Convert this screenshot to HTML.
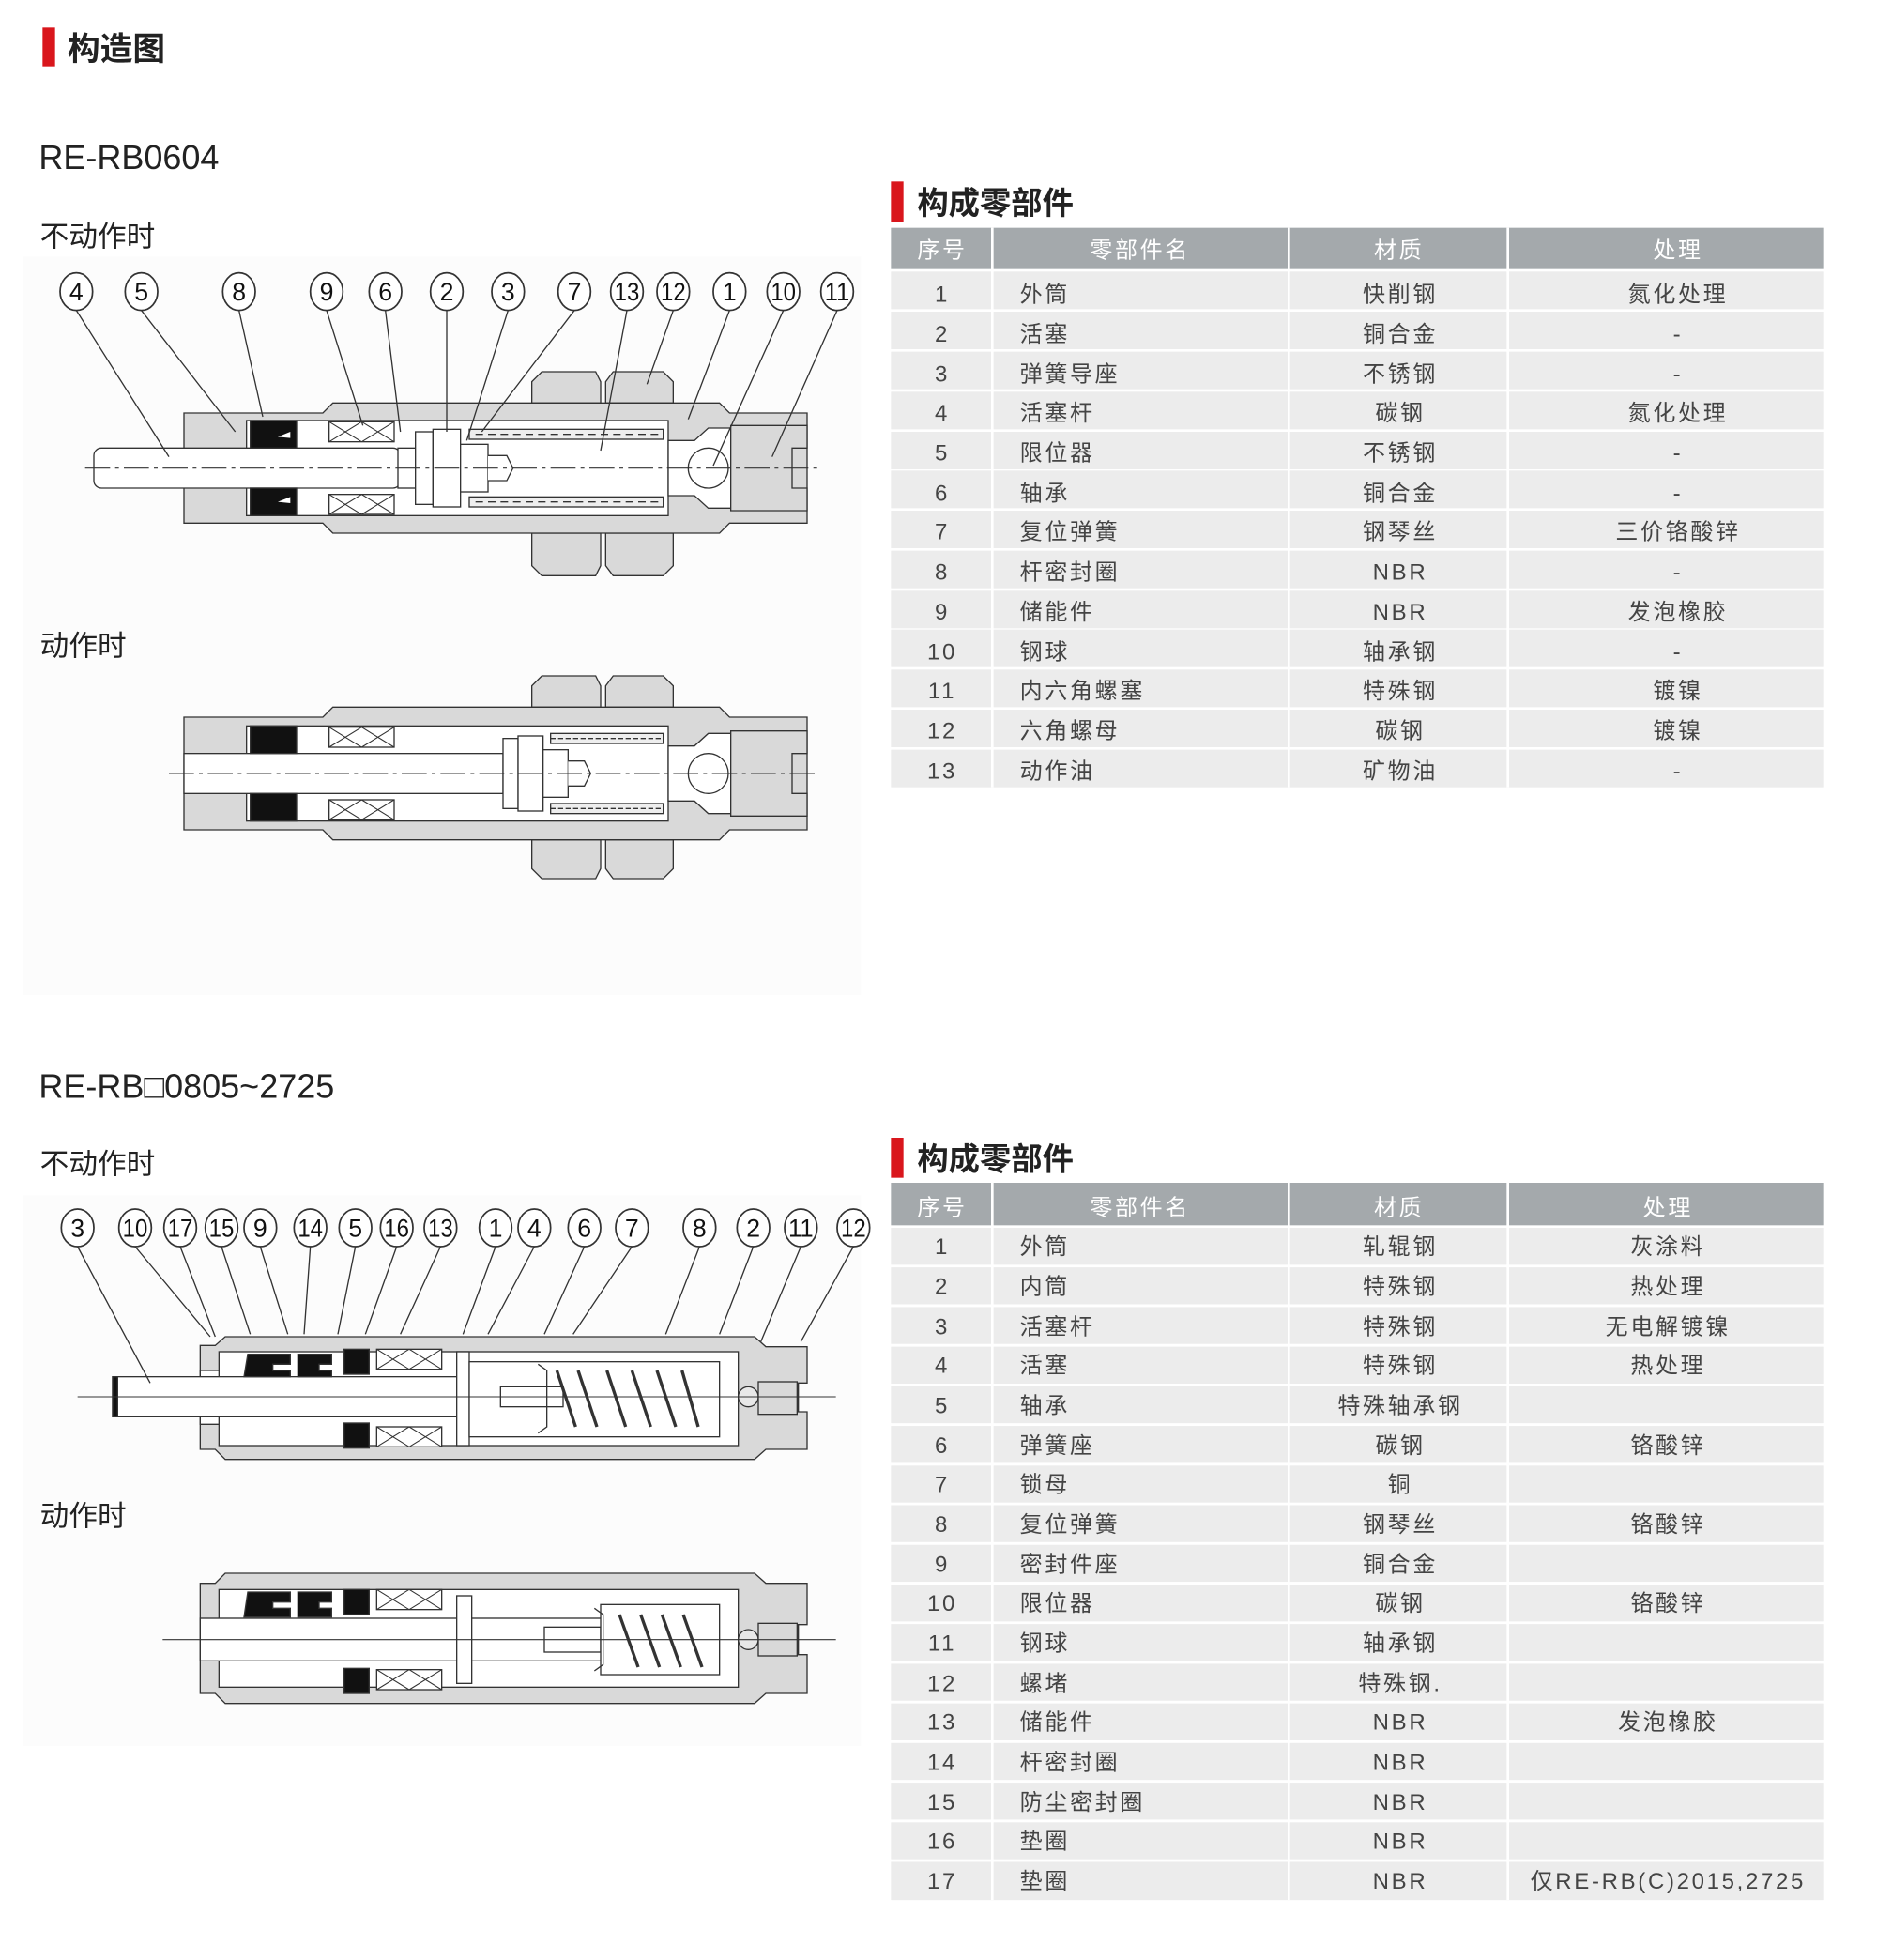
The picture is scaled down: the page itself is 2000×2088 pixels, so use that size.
<!DOCTYPE html>
<html><head><meta charset="utf-8"><style>
html,body{margin:0;padding:0;background:#fff;}
svg{display:block;}
text{font-family:"Liberation Sans","Noto Sans CJK SC",sans-serif;}
</style></head><body>
<svg width="2000" height="2088" viewBox="0 0 1500 1566" xmlns="http://www.w3.org/2000/svg">
<defs>
<g id="xb"><rect x="0" y="0" width="52" height="16" fill="#fff" stroke="#333" stroke-width="1"/><path d="M0,0 L26,16 M0,16 L26,0 M26,0 L52,16 M26,16 L52,0" stroke="#333" stroke-width="0.8"/></g>
</defs>
<rect width="1500" height="1566" fill="#fff"/>
<rect x="18" y="205" width="670" height="590" fill="#fcfcfc"/>
<rect x="18" y="955" width="670" height="440" fill="#fcfcfc"/>

<rect x="34" y="22" width="10" height="31" fill="#d9161c"/>
<text x="54" y="48" font-size="26" font-weight="bold" fill="#222">构造图</text>
<text x="31" y="135" font-size="27" fill="#222">RE-RB0604</text>
<text x="32" y="197" font-size="23" fill="#222">不动作时</text>
<text x="32" y="524" font-size="23" fill="#222">动作时</text>
<text x="31" y="877" font-size="27" fill="#222">RE-RB□0805~2725</text>
<text x="32" y="938" font-size="23" fill="#222">不动作时</text>
<text x="32" y="1219" font-size="23" fill="#222">动作时</text>

<!-- Diagram 1 -->
<g stroke="#333" stroke-width="1" fill="none">
<g fill="#fff" stroke="#333" stroke-width="1.3">
<ellipse cx="61" cy="233" rx="13" ry="15"/><ellipse cx="113" cy="233" rx="13" ry="15"/><ellipse cx="191" cy="233" rx="13" ry="15"/><ellipse cx="261" cy="233" rx="13" ry="15"/><ellipse cx="308" cy="233" rx="13" ry="15"/><ellipse cx="357" cy="233" rx="13" ry="15"/><ellipse cx="406" cy="233" rx="13" ry="15"/><ellipse cx="459" cy="233" rx="13" ry="15"/><ellipse cx="501" cy="233" rx="13" ry="15"/><ellipse cx="538" cy="233" rx="13" ry="15"/><ellipse cx="583" cy="233" rx="13" ry="15"/><ellipse cx="626" cy="233" rx="13" ry="15"/><ellipse cx="669" cy="233" rx="13" ry="15"/>
</g>
<path d="M425,322 L425,305 L433,297 L476,297 L480,305 L480,322 Z M484,322 L484,305 L490,297 L530,297 L538,305 L538,322 Z" fill="#d9d9d9"/>
<path d="M425,426 L425,452 L433,460 L476,460 L480,452 L480,426 Z M484,426 L484,452 L490,460 L530,460 L538,452 L538,426 Z" fill="#d9d9d9"/>
<path d="M147,330 L258,330 L266,322 L575,322 L583,330 L645,330 L645,418 L583,418 L575,426 L266,426 L258,418 L147,418 Z" fill="#d9d9d9"/>
<rect x="197" y="336" width="337" height="76" fill="#fff"/>
<path d="M534,352 L555,352 L566,342 L584,342 L584,406 L566,406 L555,396 L534,396 Z" fill="#fff"/>
<path d="M584,340 L645,340 L645,358 L633,358 L633,390 L645,390 L645,408 L584,408 Z" fill="#d9d9d9"/>
<circle cx="566" cy="374" r="16" fill="#fff"/>
<rect x="75" y="358" width="245" height="32" rx="6" fill="#fff"/>
<rect x="200" y="336" width="37" height="22" fill="#111"/><rect x="200" y="390" width="37" height="22" fill="#111"/>
<path d="M222,349 L232,345 L232,350 Z M222,401 L232,397 L232,402 Z" fill="#fff" stroke="none"/>
<use href="#xb" x="263" y="337"/><use href="#xb" x="263" y="395"/>
<rect x="318" y="358" width="14" height="32" fill="#fff"/>
<rect x="332" y="345" width="14" height="58" fill="#fff"/>
<rect x="346" y="343" width="22" height="62" fill="#fff"/>
<rect x="368" y="355" width="22" height="38" fill="#fff"/>
<path d="M390,364 L405,364 L410,374 L405,384 L390,384" fill="#fff"/>
<rect x="375" y="343" width="155" height="8" fill="#eee"/><rect x="375" y="397" width="155" height="8" fill="#eee"/>
<path d="M380,347 L530,347 M380,401 L530,401" stroke-dasharray="6,4"/>
<path d="M68,374 L655,374" stroke-dasharray="20,4,3,4" stroke-width="0.8"/>
<path d="M61,248 L135,365 M113,248 L188,345 M191,248 L210,333 M261,248 L290,340 M308,248 L320,345 M357,248 L357,345 M406,248 L373,352 M459,248 L385,345 M501,248 L480,360 M538,248 L517,307 M583,248 L550,335 M626,248 L570,372 M669,248 L617,365"/>
</g>
<g font-size="20" text-anchor="middle" fill="#111">
<text x="61" y="240">4</text><text x="113" y="240">5</text><text x="191" y="240">8</text><text x="261" y="240">9</text><text x="308" y="240">6</text><text x="357" y="240">2</text><text x="406" y="240">3</text><text x="459" y="240">7</text><text x="501" y="240" textLength="20" lengthAdjust="spacingAndGlyphs">13</text><text x="538" y="240" textLength="20" lengthAdjust="spacingAndGlyphs">12</text><text x="583" y="240">1</text><text x="626" y="240" textLength="20" lengthAdjust="spacingAndGlyphs">10</text><text x="669" y="240" textLength="20" lengthAdjust="spacingAndGlyphs">11</text>
</g>

<!-- Diagram 2 -->
<g stroke="#333" stroke-width="1" fill="none">
<path d="M425,565 L425,548 L433,540 L476,540 L480,548 L480,565 Z M484,565 L484,548 L490,540 L530,540 L538,548 L538,565 Z" fill="#d9d9d9"/>
<path d="M425,671 L425,694 L433,702 L476,702 L480,694 L480,671 Z M484,671 L484,694 L490,702 L530,702 L538,694 L538,671 Z" fill="#d9d9d9"/>
<path d="M147,573 L258,573 L266,565 L575,565 L583,573 L645,573 L645,663 L583,663 L575,671 L266,671 L258,663 L147,663 Z" fill="#d9d9d9"/>
<rect x="197" y="580" width="337" height="76" fill="#fff"/>
<path d="M534,596 L555,596 L566,586 L584,586 L584,650 L566,650 L555,640 L534,640 Z" fill="#fff"/>
<path d="M584,584 L645,584 L645,602 L633,602 L633,634 L645,634 L645,652 L584,652 Z" fill="#d9d9d9"/>
<circle cx="566" cy="618" r="16" fill="#fff"/>
<rect x="147" y="602" width="255" height="32" fill="#fff"/>
<rect x="200" y="580" width="37" height="22" fill="#111"/><rect x="200" y="634" width="37" height="22" fill="#111"/>
<use href="#xb" x="263" y="581"/><use href="#xb" x="263" y="639"/>
<rect x="402" y="590" width="12" height="56" fill="#fff"/>
<rect x="414" y="588" width="20" height="60" fill="#fff"/>
<rect x="434" y="599" width="20" height="38" fill="#fff"/>
<path d="M454,608 L467,608 L472,618 L467,628 L454,628" fill="#fff"/>
<rect x="440" y="586" width="90" height="8" fill="#eee"/><rect x="440" y="642" width="90" height="8" fill="#eee"/>
<path d="M440,590 L530,590 M440,646 L530,646" stroke-dasharray="4,2"/>
<path d="M135,618 L655,618" stroke-dasharray="20,4,3,4" stroke-width="0.8"/>
</g>

<!-- Diagram 3 -->
<g stroke="#333" stroke-width="1" fill="none">
<g fill="#fff" stroke="#333" stroke-width="1.3">
<ellipse cx="62" cy="981" rx="13" ry="15"/><ellipse cx="108" cy="981" rx="13" ry="15"/><ellipse cx="144" cy="981" rx="13" ry="15"/><ellipse cx="177" cy="981" rx="13" ry="15"/><ellipse cx="208" cy="981" rx="13" ry="15"/><ellipse cx="248" cy="981" rx="13" ry="15"/><ellipse cx="284" cy="981" rx="13" ry="15"/><ellipse cx="317" cy="981" rx="13" ry="15"/><ellipse cx="352" cy="981" rx="13" ry="15"/><ellipse cx="396" cy="981" rx="13" ry="15"/><ellipse cx="427" cy="981" rx="13" ry="15"/><ellipse cx="467" cy="981" rx="13" ry="15"/><ellipse cx="505" cy="981" rx="13" ry="15"/><ellipse cx="559" cy="981" rx="13" ry="15"/><ellipse cx="602" cy="981" rx="13" ry="15"/><ellipse cx="640" cy="981" rx="13" ry="15"/><ellipse cx="682" cy="981" rx="13" ry="15"/>
</g>
<path d="M160,1075 L172,1075 L180,1068 L603,1068 L612,1076 L645,1076 L645,1105 L638,1105 L638,1128 L645,1128 L645,1158 L612,1158 L603,1166 L180,1166 L172,1158 L160,1158 Z" fill="#d9d9d9"/>
<rect x="175" y="1080" width="415" height="75" fill="#fff"/>
<path d="M160,1095 L175,1095 L175,1100 L160,1100 Z M160,1132 L175,1132 L175,1138 L160,1138 Z" fill="#fff"/>
<rect x="90" y="1100" width="275" height="32" fill="#fff"/>
<rect x="90" y="1100" width="4" height="32" fill="#111"/>
<path d="M198,1082 L232,1082 L232,1090 L218,1090 L218,1095 L232,1095 L232,1100 L195,1100 Z" fill="#111"/>
<path d="M238,1082 L265,1082 L265,1090 L255,1090 L255,1095 L265,1095 L265,1100 L238,1100 Z" fill="#111"/>
<rect x="275" y="1078" width="20" height="20" fill="#111"/><rect x="275" y="1137" width="20" height="20" fill="#111"/>
<use href="#xb" x="301" y="1078"/><use href="#xb" x="301" y="1140"/>
<rect x="365" y="1080" width="10" height="75" fill="#fff"/>
<rect x="375" y="1088" width="200" height="60" fill="#fff"/>
<rect x="400" y="1108" width="50" height="16" fill="#fff"/>
<path d="M430,1090 L437,1095 L437,1140 L430,1145"/>
<path d="M445,1095 L460,1140 M462,1095 L477,1140 M485,1095 L500,1140 M505,1095 L520,1140 M525,1095 L540,1140 M545,1095 L558,1140" stroke-width="2.5"/>
<circle cx="598" cy="1116" r="8" fill="#e8e8e8"/>
<rect x="606" y="1104" width="31" height="26" fill="#d9d9d9"/>
<path d="M62,1116 L668,1116" stroke-width="0.8"/>
<path d="M62,996 L120,1105 M108,996 L168,1068 M144,996 L172,1068 M177,996 L200,1066 M208,996 L230,1066 M248,996 L243,1066 M284,996 L270,1066 M317,996 L292,1066 M352,996 L320,1066 M396,996 L370,1066 M427,996 L390,1066 M467,996 L435,1066 M505,996 L458,1066 M559,996 L532,1066 M602,996 L575,1066 M640,996 L608,1072 M682,996 L640,1072"/>
</g>
<g font-size="20" text-anchor="middle" fill="#111">
<text x="62" y="988">3</text><text x="108" y="988" textLength="20" lengthAdjust="spacingAndGlyphs">10</text><text x="144" y="988" textLength="20" lengthAdjust="spacingAndGlyphs">17</text><text x="177" y="988" textLength="20" lengthAdjust="spacingAndGlyphs">15</text><text x="208" y="988">9</text><text x="248" y="988" textLength="20" lengthAdjust="spacingAndGlyphs">14</text><text x="284" y="988">5</text><text x="317" y="988" textLength="20" lengthAdjust="spacingAndGlyphs">16</text><text x="352" y="988" textLength="20" lengthAdjust="spacingAndGlyphs">13</text><text x="396" y="988">1</text><text x="427" y="988">4</text><text x="467" y="988">6</text><text x="505" y="988">7</text><text x="559" y="988">8</text><text x="602" y="988">2</text><text x="640" y="988" textLength="20" lengthAdjust="spacingAndGlyphs">11</text><text x="682" y="988" textLength="20" lengthAdjust="spacingAndGlyphs">12</text>
</g>

<!-- Diagram 4 -->
<g stroke="#333" stroke-width="1" fill="none">
<path d="M160,1265 L172,1265 L180,1257 L603,1257 L612,1265 L645,1265 L645,1298 L638,1298 L638,1322 L645,1322 L645,1353 L612,1353 L603,1361 L180,1361 L172,1353 L160,1353 Z" fill="#d9d9d9"/>
<rect x="175" y="1270" width="415" height="78" fill="#fff"/>
<rect x="160" y="1293" width="330" height="34" fill="#fff"/>
<path d="M198,1272 L232,1272 L232,1280 L218,1280 L218,1285 L232,1285 L232,1292 L195,1292 Z" fill="#111"/>
<path d="M238,1272 L265,1272 L265,1280 L255,1280 L255,1285 L265,1285 L265,1292 L238,1292 Z" fill="#111"/>
<rect x="275" y="1270" width="20" height="20" fill="#111"/><rect x="275" y="1333" width="20" height="20" fill="#111"/>
<use href="#xb" x="301" y="1270"/><use href="#xb" x="301" y="1334"/>
<rect x="365" y="1275" width="12" height="70" fill="#fff"/>
<rect x="435" y="1300" width="45" height="20" fill="#fff"/>
<rect x="480" y="1282" width="95" height="56" fill="#fff"/>
<path d="M475,1285 L482,1290 L482,1330 L475,1335"/>
<path d="M495,1290 L510,1332 M512,1290 L527,1332 M529,1290 L544,1332 M546,1290 L561,1332" stroke-width="2.5"/>
<circle cx="598" cy="1310" r="8" fill="#e8e8e8"/>
<rect x="606" y="1297" width="31" height="26" fill="#d9d9d9"/>
<path d="M130,1310 L668,1310" stroke-width="0.8"/>
</g>

<!-- Table 1 -->
<rect x="712" y="145" width="10" height="32" fill="#d9161c"/>
<text x="733" y="171" font-size="25" font-weight="bold" fill="#222">构成零部件</text>
<g>
<rect x="712" y="182" width="745" height="33" fill="#a4a9ac"/>
<g fill="#ececec">
<rect x="712" y="217" width="745" height="30"/><rect x="712" y="249" width="745" height="30"/><rect x="712" y="281" width="745" height="30"/><rect x="712" y="313" width="745" height="30"/><rect x="712" y="345" width="745" height="30"/><rect x="712" y="376" width="745" height="30"/><rect x="712" y="408" width="745" height="30"/><rect x="712" y="440" width="745" height="30"/><rect x="712" y="472" width="745" height="30"/><rect x="712" y="503" width="745" height="30"/><rect x="712" y="535" width="745" height="30"/><rect x="712" y="567" width="745" height="30"/><rect x="712" y="599" width="745" height="30"/>
</g>
<path d="M793,182 V629 M1030,182 V629 M1205,182 V629" stroke="#fff" stroke-width="2"/>
<g font-size="18" fill="#fff" text-anchor="middle" letter-spacing="2"><text x="753" y="206">序号</text><text x="911" y="206">零部件名</text><text x="1118" y="206">材质</text><text x="1341" y="206">处理</text></g>
<g font-size="18" fill="#444" letter-spacing="2">
<g text-anchor="middle">
<text x="753" y="241">1</text><text x="753" y="273">2</text><text x="753" y="305">3</text><text x="753" y="336">4</text><text x="753" y="368">5</text><text x="753" y="400">6</text><text x="753" y="431">7</text><text x="753" y="463">8</text><text x="753" y="495">9</text><text x="753" y="527">10</text><text x="753" y="558">11</text><text x="753" y="590">12</text><text x="753" y="622">13</text>
<text x="1119" y="241">快削钢</text><text x="1119" y="273">铜合金</text><text x="1119" y="305">不锈钢</text><text x="1119" y="336">碳钢</text><text x="1119" y="368">不锈钢</text><text x="1119" y="400">铜合金</text><text x="1119" y="431">钢琴丝</text><text x="1119" y="463">NBR</text><text x="1119" y="495">NBR</text><text x="1119" y="527">轴承钢</text><text x="1119" y="558">特殊钢</text><text x="1119" y="590">碳钢</text><text x="1119" y="622">矿物油</text>
<text x="1341" y="241">氮化处理</text><text x="1341" y="273">-</text><text x="1341" y="305">-</text><text x="1341" y="336">氮化处理</text><text x="1341" y="368">-</text><text x="1341" y="400">-</text><text x="1341" y="431">三价铬酸锌</text><text x="1341" y="463">-</text><text x="1341" y="495">发泡橡胶</text><text x="1341" y="527">-</text><text x="1341" y="558">镀镍</text><text x="1341" y="590">镀镍</text><text x="1341" y="622">-</text>
</g>
<text x="815" y="241">外筒</text><text x="815" y="273">活塞</text><text x="815" y="305">弹簧导座</text><text x="815" y="336">活塞杆</text><text x="815" y="368">限位器</text><text x="815" y="400">轴承</text><text x="815" y="431">复位弹簧</text><text x="815" y="463">杆密封圈</text><text x="815" y="495">储能件</text><text x="815" y="527">钢球</text><text x="815" y="558">内六角螺塞</text><text x="815" y="590">六角螺母</text><text x="815" y="622">动作油</text>
</g>
</g>

<!-- Table 2 -->
<rect x="712" y="909" width="10" height="32" fill="#d9161c"/>
<text x="733" y="935" font-size="25" font-weight="bold" fill="#222">构成零部件</text>
<g>
<rect x="712" y="945" width="745" height="34" fill="#a4a9ac"/>
<g fill="#ececec">
<rect x="712" y="981" width="745" height="29.5"/><rect x="712" y="1012.6" width="745" height="29.5"/><rect x="712" y="1044.3" width="745" height="29.5"/><rect x="712" y="1076" width="745" height="29.5"/><rect x="712" y="1107.6" width="745" height="29.5"/><rect x="712" y="1139.3" width="745" height="29.5"/><rect x="712" y="1171" width="745" height="29.5"/><rect x="712" y="1202.6" width="745" height="29.5"/><rect x="712" y="1234.3" width="745" height="29.5"/><rect x="712" y="1266" width="745" height="29.5"/><rect x="712" y="1297.6" width="745" height="29.5"/><rect x="712" y="1329.3" width="745" height="29.5"/><rect x="712" y="1361" width="745" height="29.5"/><rect x="712" y="1392.6" width="745" height="29.5"/><rect x="712" y="1424.3" width="745" height="29.5"/><rect x="712" y="1456" width="745" height="29.5"/><rect x="712" y="1487.6" width="745" height="30.5"/>
</g>
<path d="M793,945 V1518 M1030,945 V1518 M1205,945 V1518" stroke="#fff" stroke-width="2"/>
<g font-size="18" fill="#fff" text-anchor="middle" letter-spacing="2"><text x="753" y="971">序号</text><text x="911" y="971">零部件名</text><text x="1118" y="971">材质</text><text x="1333" y="971">处理</text></g>
<g font-size="18" fill="#444" letter-spacing="2">
<g text-anchor="middle">
<text x="753" y="1002">1</text><text x="753" y="1034">2</text><text x="753" y="1066">3</text><text x="753" y="1097">4</text><text x="753" y="1129">5</text><text x="753" y="1161">6</text><text x="753" y="1192">7</text><text x="753" y="1224">8</text><text x="753" y="1256">9</text><text x="753" y="1287">10</text><text x="753" y="1319">11</text><text x="753" y="1351">12</text><text x="753" y="1382">13</text><text x="753" y="1414">14</text><text x="753" y="1446">15</text><text x="753" y="1477">16</text><text x="753" y="1509">17</text>
<text x="1119" y="1002">轧辊钢</text><text x="1119" y="1034">特殊钢</text><text x="1119" y="1066">特殊钢</text><text x="1119" y="1097">特殊钢</text><text x="1119" y="1129">特殊轴承钢</text><text x="1119" y="1161">碳钢</text><text x="1119" y="1192">铜</text><text x="1119" y="1224">钢琴丝</text><text x="1119" y="1256">铜合金</text><text x="1119" y="1287">碳钢</text><text x="1119" y="1319">轴承钢</text><text x="1119" y="1351">特殊钢.</text><text x="1119" y="1382">NBR</text><text x="1119" y="1414">NBR</text><text x="1119" y="1446">NBR</text><text x="1119" y="1477">NBR</text><text x="1119" y="1509">NBR</text>
<text x="1333" y="1002">灰涂料</text><text x="1333" y="1034">热处理</text><text x="1333" y="1066">无电解镀镍</text><text x="1333" y="1097">热处理</text><text x="1333" y="1161">铬酸锌</text><text x="1333" y="1224">铬酸锌</text><text x="1333" y="1287">铬酸锌</text><text x="1333" y="1382">发泡橡胶</text><text x="1333" y="1509">仅RE-RB(C)2015,2725</text>
</g>
<text x="815" y="1002">外筒</text><text x="815" y="1034">内筒</text><text x="815" y="1066">活塞杆</text><text x="815" y="1097">活塞</text><text x="815" y="1129">轴承</text><text x="815" y="1161">弹簧座</text><text x="815" y="1192">锁母</text><text x="815" y="1224">复位弹簧</text><text x="815" y="1256">密封件座</text><text x="815" y="1287">限位器</text><text x="815" y="1319">钢球</text><text x="815" y="1351">螺堵</text><text x="815" y="1382">储能件</text><text x="815" y="1414">杆密封圈</text><text x="815" y="1446">防尘密封圈</text><text x="815" y="1477">垫圈</text><text x="815" y="1509">垫圈</text>
</g>
</g>
</svg>
</body></html>
